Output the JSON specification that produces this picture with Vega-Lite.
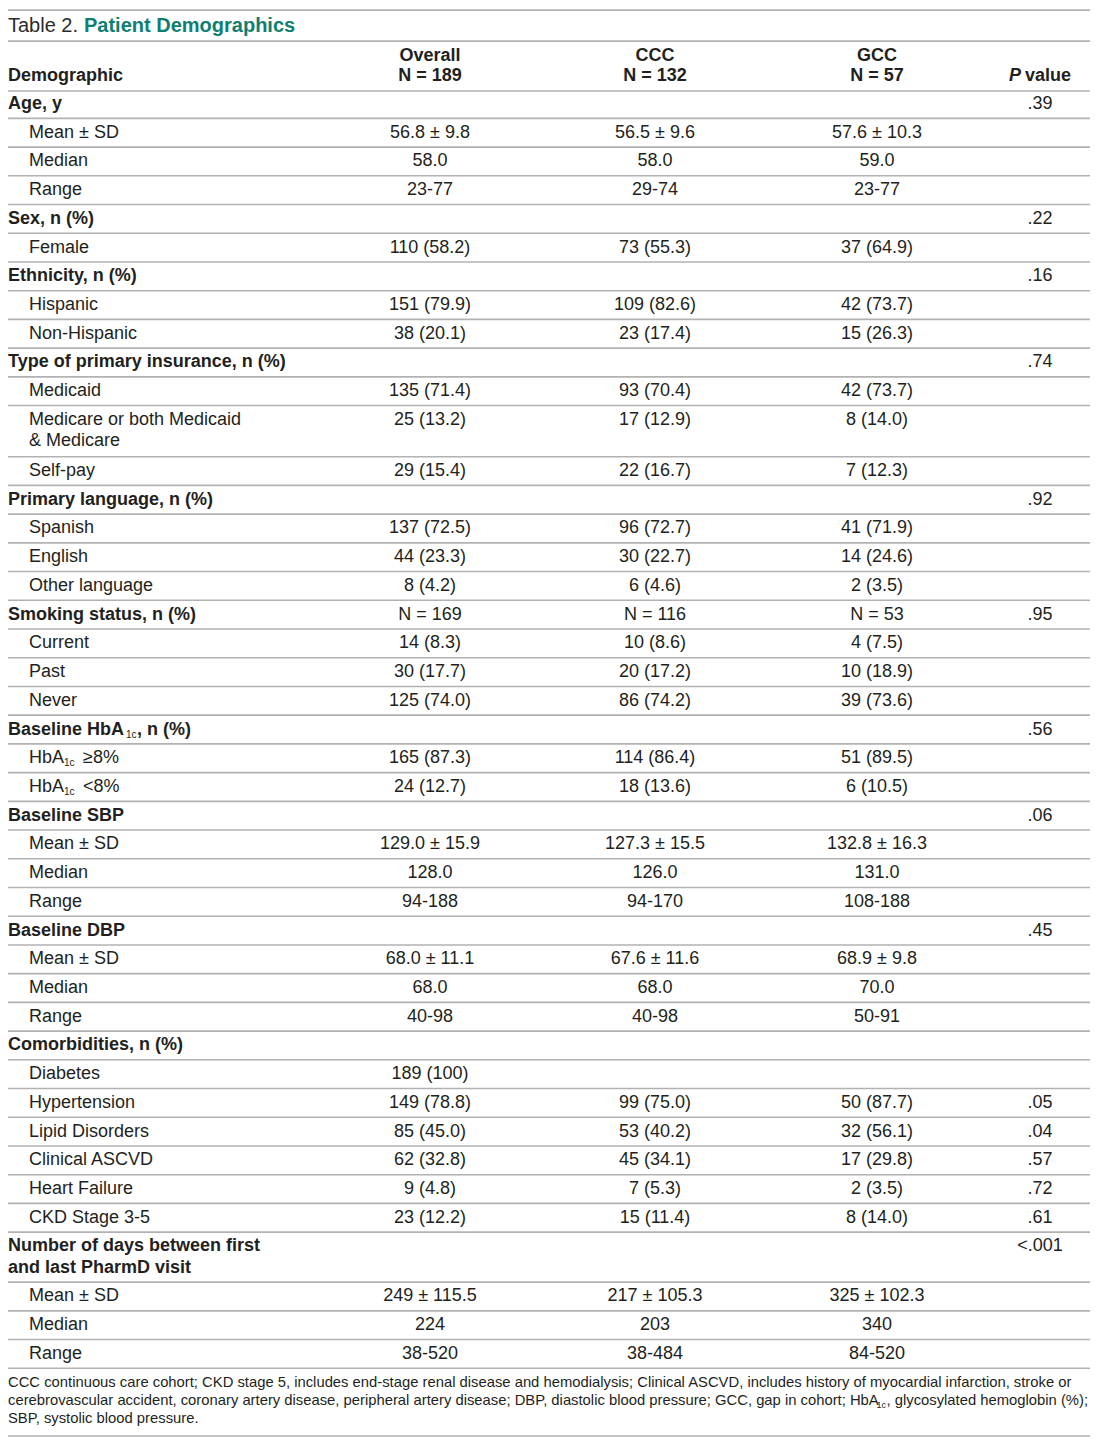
{
  "$schema": "https://vega.github.io/schema/vega-lite/v6.json",
  "width": 1100,
  "height": 1442,
  "padding": 0,
  "autosize": {"type": "none"},
  "background": "white",
  "config": {"view": {"stroke": null}, "text": {"font": "Liberation Sans", "fontSize": 18, "color": "#231f20", "baseline": "middle"}},
  "datasets": {
    "rules": [
      {"r": -3.27, "c": 0, "e": 6}, {"r": -2.19, "c": 0, "e": 6}, {"r": -0.45, "c": 0, "e": 6},
      {"r": 0.5, "c": 0, "e": 6}, {"r": 1.5, "c": 0, "e": 6}, {"r": 2.5, "c": 0, "e": 6}, {"r": 3.5, "c": 0, "e": 6}, {"r": 4.5, "c": 0, "e": 6}, {"r": 5.5, "c": 0, "e": 6}, {"r": 6.5, "c": 0, "e": 6}, {"r": 7.5, "c": 0, "e": 6}, {"r": 8.5, "c": 0, "e": 6}, {"r": 9.5, "c": 0, "e": 6}, {"r": 10.5, "c": 0, "e": 6},
      {"r": 12.28, "c": 0, "e": 6}, {"r": 13.28, "c": 0, "e": 6}, {"r": 14.28, "c": 0, "e": 6}, {"r": 15.28, "c": 0, "e": 6}, {"r": 16.28, "c": 0, "e": 6}, {"r": 17.28, "c": 0, "e": 6}, {"r": 18.28, "c": 0, "e": 6}, {"r": 19.28, "c": 0, "e": 6}, {"r": 20.28, "c": 0, "e": 6}, {"r": 21.28, "c": 0, "e": 6},
      {"r": 22.28, "c": 0, "e": 6}, {"r": 23.28, "c": 0, "e": 6}, {"r": 24.28, "c": 0, "e": 6}, {"r": 25.28, "c": 0, "e": 6}, {"r": 26.28, "c": 0, "e": 6}, {"r": 27.28, "c": 0, "e": 6}, {"r": 28.28, "c": 0, "e": 6}, {"r": 29.28, "c": 0, "e": 6}, {"r": 30.28, "c": 0, "e": 6}, {"r": 31.28, "c": 0, "e": 6},
      {"r": 32.28, "c": 0, "e": 6}, {"r": 33.28, "c": 0, "e": 6}, {"r": 34.28, "c": 0, "e": 6}, {"r": 35.28, "c": 0, "e": 6}, {"r": 36.28, "c": 0, "e": 6}, {"r": 37.28, "c": 0, "e": 6}, {"r": 38.28, "c": 0, "e": 6}, {"r": 39.28, "c": 0, "e": 6},
      {"r": 41.02, "c": 0, "e": 6}, {"r": 42.02, "c": 0, "e": 6}, {"r": 43.02, "c": 0, "e": 6}, {"r": 44.02, "c": 0, "e": 6}, {"r": 46.38, "c": 0, "e": 6}
    ],
    "cells": [
      {"r": -2.72, "c": 0, "k": "t1", "t": "Table 2."},
      {"r": -2.72, "c": 0, "k": "t2", "t": "Patient Demographics"},
      {"r": -1.67, "c": 2, "k": "hc", "t": "Overall"},
      {"r": -1.67, "c": 3, "k": "hc", "t": "CCC"},
      {"r": -1.67, "c": 4, "k": "hc", "t": "GCC"},
      {"r": -0.975, "c": 0, "k": "cat", "t": "Demographic"},
      {"r": -0.975, "c": 2, "k": "hc", "t": "N = 189"},
      {"r": -0.975, "c": 3, "k": "hc", "t": "N = 132"},
      {"r": -0.975, "c": 4, "k": "hc", "t": "N = 57"},
      {"r": -0.975, "c": 5, "k": "pi", "t": "P"},
      {"r": -0.975, "c": 5, "k": "pv", "t": "value"},

      {"r": 0, "c": 0, "k": "cat", "t": "Age, y"},
      {"r": 0, "c": 5, "k": "val", "t": ".39"},
      {"r": 1, "c": 1, "k": "item", "t": "Mean ± SD"},
      {"r": 1, "c": 2, "k": "val", "t": "56.8 ± 9.8"},
      {"r": 1, "c": 3, "k": "val", "t": "56.5 ± 9.6"},
      {"r": 1, "c": 4, "k": "val", "t": "57.6 ± 10.3"},
      {"r": 2, "c": 1, "k": "item", "t": "Median"},
      {"r": 2, "c": 2, "k": "val", "t": "58.0"},
      {"r": 2, "c": 3, "k": "val", "t": "58.0"},
      {"r": 2, "c": 4, "k": "val", "t": "59.0"},
      {"r": 3, "c": 1, "k": "item", "t": "Range"},
      {"r": 3, "c": 2, "k": "val", "t": "23-77"},
      {"r": 3, "c": 3, "k": "val", "t": "29-74"},
      {"r": 3, "c": 4, "k": "val", "t": "23-77"},

      {"r": 4, "c": 0, "k": "cat", "t": "Sex, n (%)"},
      {"r": 4, "c": 5, "k": "val", "t": ".22"},
      {"r": 5, "c": 1, "k": "item", "t": "Female"},
      {"r": 5, "c": 2, "k": "val", "t": "110 (58.2)"},
      {"r": 5, "c": 3, "k": "val", "t": "73 (55.3)"},
      {"r": 5, "c": 4, "k": "val", "t": "37 (64.9)"},

      {"r": 6, "c": 0, "k": "cat", "t": "Ethnicity, n (%)"},
      {"r": 6, "c": 5, "k": "val", "t": ".16"},
      {"r": 7, "c": 1, "k": "item", "t": "Hispanic"},
      {"r": 7, "c": 2, "k": "val", "t": "151 (79.9)"},
      {"r": 7, "c": 3, "k": "val", "t": "109 (82.6)"},
      {"r": 7, "c": 4, "k": "val", "t": "42 (73.7)"},
      {"r": 8, "c": 1, "k": "item", "t": "Non-Hispanic"},
      {"r": 8, "c": 2, "k": "val", "t": "38 (20.1)"},
      {"r": 8, "c": 3, "k": "val", "t": "23 (17.4)"},
      {"r": 8, "c": 4, "k": "val", "t": "15 (26.3)"},

      {"r": 9, "c": 0, "k": "cat", "t": "Type of primary insurance, n (%)"},
      {"r": 9, "c": 5, "k": "val", "t": ".74"},
      {"r": 10, "c": 1, "k": "item", "t": "Medicaid"},
      {"r": 10, "c": 2, "k": "val", "t": "135 (71.4)"},
      {"r": 10, "c": 3, "k": "val", "t": "93 (70.4)"},
      {"r": 10, "c": 4, "k": "val", "t": "42 (73.7)"},
      {"r": 11, "c": 1, "k": "item", "t": "Medicare or both Medicaid"},
      {"r": 11.73, "c": 1, "k": "item", "t": "& Medicare"},
      {"r": 11, "c": 2, "k": "val", "t": "25 (13.2)"},
      {"r": 11, "c": 3, "k": "val", "t": "17 (12.9)"},
      {"r": 11, "c": 4, "k": "val", "t": "8 (14.0)"},
      {"r": 12.78, "c": 1, "k": "item", "t": "Self-pay"},
      {"r": 12.78, "c": 2, "k": "val", "t": "29 (15.4)"},
      {"r": 12.78, "c": 3, "k": "val", "t": "22 (16.7)"},
      {"r": 12.78, "c": 4, "k": "val", "t": "7 (12.3)"},

      {"r": 13.78, "c": 0, "k": "cat", "t": "Primary language, n (%)"},
      {"r": 13.78, "c": 5, "k": "val", "t": ".92"},
      {"r": 14.78, "c": 1, "k": "item", "t": "Spanish"},
      {"r": 14.78, "c": 2, "k": "val", "t": "137 (72.5)"},
      {"r": 14.78, "c": 3, "k": "val", "t": "96 (72.7)"},
      {"r": 14.78, "c": 4, "k": "val", "t": "41 (71.9)"},
      {"r": 15.78, "c": 1, "k": "item", "t": "English"},
      {"r": 15.78, "c": 2, "k": "val", "t": "44 (23.3)"},
      {"r": 15.78, "c": 3, "k": "val", "t": "30 (22.7)"},
      {"r": 15.78, "c": 4, "k": "val", "t": "14 (24.6)"},
      {"r": 16.78, "c": 1, "k": "item", "t": "Other language"},
      {"r": 16.78, "c": 2, "k": "val", "t": "8 (4.2)"},
      {"r": 16.78, "c": 3, "k": "val", "t": "6 (4.6)"},
      {"r": 16.78, "c": 4, "k": "val", "t": "2 (3.5)"},

      {"r": 17.78, "c": 0, "k": "cat", "t": "Smoking status, n (%)"},
      {"r": 17.78, "c": 2, "k": "val", "t": "N = 169"},
      {"r": 17.78, "c": 3, "k": "val", "t": "N = 116"},
      {"r": 17.78, "c": 4, "k": "val", "t": "N = 53"},
      {"r": 17.78, "c": 5, "k": "val", "t": ".95"},
      {"r": 18.78, "c": 1, "k": "item", "t": "Current"},
      {"r": 18.78, "c": 2, "k": "val", "t": "14 (8.3)"},
      {"r": 18.78, "c": 3, "k": "val", "t": "10 (8.6)"},
      {"r": 18.78, "c": 4, "k": "val", "t": "4 (7.5)"},
      {"r": 19.78, "c": 1, "k": "item", "t": "Past"},
      {"r": 19.78, "c": 2, "k": "val", "t": "30 (17.7)"},
      {"r": 19.78, "c": 3, "k": "val", "t": "20 (17.2)"},
      {"r": 19.78, "c": 4, "k": "val", "t": "10 (18.9)"},
      {"r": 20.78, "c": 1, "k": "item", "t": "Never"},
      {"r": 20.78, "c": 2, "k": "val", "t": "125 (74.0)"},
      {"r": 20.78, "c": 3, "k": "val", "t": "86 (74.2)"},
      {"r": 20.78, "c": 4, "k": "val", "t": "39 (73.6)"},

      {"r": 21.78, "c": 0, "k": "cat", "t": "Baseline HbA"},
      {"r": 21.78, "c": 0, "k": "hsub", "t": "1c"},
      {"r": 21.78, "c": 0, "k": "htail", "t": ", n (%)"},
      {"r": 21.78, "c": 5, "k": "val", "t": ".56"},
      {"r": 22.78, "c": 1, "k": "item", "t": "HbA"},
      {"r": 22.78, "c": 1, "k": "isub", "t": "1c"},
      {"r": 22.78, "c": 1, "k": "itail", "t": "≥8%"},
      {"r": 22.78, "c": 2, "k": "val", "t": "165 (87.3)"},
      {"r": 22.78, "c": 3, "k": "val", "t": "114 (86.4)"},
      {"r": 22.78, "c": 4, "k": "val", "t": "51 (89.5)"},
      {"r": 23.78, "c": 1, "k": "item", "t": "HbA"},
      {"r": 23.78, "c": 1, "k": "isub", "t": "1c"},
      {"r": 23.78, "c": 1, "k": "itail", "t": "<8%"},
      {"r": 23.78, "c": 2, "k": "val", "t": "24 (12.7)"},
      {"r": 23.78, "c": 3, "k": "val", "t": "18 (13.6)"},
      {"r": 23.78, "c": 4, "k": "val", "t": "6 (10.5)"},

      {"r": 24.78, "c": 0, "k": "cat", "t": "Baseline SBP"},
      {"r": 24.78, "c": 5, "k": "val", "t": ".06"},
      {"r": 25.78, "c": 1, "k": "item", "t": "Mean ± SD"},
      {"r": 25.78, "c": 2, "k": "val", "t": "129.0 ± 15.9"},
      {"r": 25.78, "c": 3, "k": "val", "t": "127.3 ± 15.5"},
      {"r": 25.78, "c": 4, "k": "val", "t": "132.8 ± 16.3"},
      {"r": 26.78, "c": 1, "k": "item", "t": "Median"},
      {"r": 26.78, "c": 2, "k": "val", "t": "128.0"},
      {"r": 26.78, "c": 3, "k": "val", "t": "126.0"},
      {"r": 26.78, "c": 4, "k": "val", "t": "131.0"},
      {"r": 27.78, "c": 1, "k": "item", "t": "Range"},
      {"r": 27.78, "c": 2, "k": "val", "t": "94-188"},
      {"r": 27.78, "c": 3, "k": "val", "t": "94-170"},
      {"r": 27.78, "c": 4, "k": "val", "t": "108-188"},

      {"r": 28.78, "c": 0, "k": "cat", "t": "Baseline DBP"},
      {"r": 28.78, "c": 5, "k": "val", "t": ".45"},
      {"r": 29.78, "c": 1, "k": "item", "t": "Mean ± SD"},
      {"r": 29.78, "c": 2, "k": "val", "t": "68.0 ± 11.1"},
      {"r": 29.78, "c": 3, "k": "val", "t": "67.6 ± 11.6"},
      {"r": 29.78, "c": 4, "k": "val", "t": "68.9 ± 9.8"},
      {"r": 30.78, "c": 1, "k": "item", "t": "Median"},
      {"r": 30.78, "c": 2, "k": "val", "t": "68.0"},
      {"r": 30.78, "c": 3, "k": "val", "t": "68.0"},
      {"r": 30.78, "c": 4, "k": "val", "t": "70.0"},
      {"r": 31.78, "c": 1, "k": "item", "t": "Range"},
      {"r": 31.78, "c": 2, "k": "val", "t": "40-98"},
      {"r": 31.78, "c": 3, "k": "val", "t": "40-98"},
      {"r": 31.78, "c": 4, "k": "val", "t": "50-91"},

      {"r": 32.78, "c": 0, "k": "cat", "t": "Comorbidities, n (%)"},
      {"r": 33.78, "c": 1, "k": "item", "t": "Diabetes"},
      {"r": 33.78, "c": 2, "k": "val", "t": "189 (100)"},
      {"r": 34.78, "c": 1, "k": "item", "t": "Hypertension"},
      {"r": 34.78, "c": 2, "k": "val", "t": "149 (78.8)"},
      {"r": 34.78, "c": 3, "k": "val", "t": "99 (75.0)"},
      {"r": 34.78, "c": 4, "k": "val", "t": "50 (87.7)"},
      {"r": 34.78, "c": 5, "k": "val", "t": ".05"},
      {"r": 35.78, "c": 1, "k": "item", "t": "Lipid Disorders"},
      {"r": 35.78, "c": 2, "k": "val", "t": "85 (45.0)"},
      {"r": 35.78, "c": 3, "k": "val", "t": "53 (40.2)"},
      {"r": 35.78, "c": 4, "k": "val", "t": "32 (56.1)"},
      {"r": 35.78, "c": 5, "k": "val", "t": ".04"},
      {"r": 36.78, "c": 1, "k": "item", "t": "Clinical ASCVD"},
      {"r": 36.78, "c": 2, "k": "val", "t": "62 (32.8)"},
      {"r": 36.78, "c": 3, "k": "val", "t": "45 (34.1)"},
      {"r": 36.78, "c": 4, "k": "val", "t": "17 (29.8)"},
      {"r": 36.78, "c": 5, "k": "val", "t": ".57"},
      {"r": 37.78, "c": 1, "k": "item", "t": "Heart Failure"},
      {"r": 37.78, "c": 2, "k": "val", "t": "9 (4.8)"},
      {"r": 37.78, "c": 3, "k": "val", "t": "7 (5.3)"},
      {"r": 37.78, "c": 4, "k": "val", "t": "2 (3.5)"},
      {"r": 37.78, "c": 5, "k": "val", "t": ".72"},
      {"r": 38.78, "c": 1, "k": "item", "t": "CKD Stage 3-5"},
      {"r": 38.78, "c": 2, "k": "val", "t": "23 (12.2)"},
      {"r": 38.78, "c": 3, "k": "val", "t": "15 (11.4)"},
      {"r": 38.78, "c": 4, "k": "val", "t": "8 (14.0)"},
      {"r": 38.78, "c": 5, "k": "val", "t": ".61"},

      {"r": 39.78, "c": 0, "k": "cat", "t": "Number of days between first"},
      {"r": 40.52, "c": 0, "k": "cat", "t": "and last PharmD visit"},
      {"r": 39.78, "c": 5, "k": "val", "t": "<.001"},
      {"r": 41.52, "c": 1, "k": "item", "t": "Mean ± SD"},
      {"r": 41.52, "c": 2, "k": "val", "t": "249 ± 115.5"},
      {"r": 41.52, "c": 3, "k": "val", "t": "217 ± 105.3"},
      {"r": 41.52, "c": 4, "k": "val", "t": "325 ± 102.3"},
      {"r": 42.52, "c": 1, "k": "item", "t": "Median"},
      {"r": 42.52, "c": 2, "k": "val", "t": "224"},
      {"r": 42.52, "c": 3, "k": "val", "t": "203"},
      {"r": 42.52, "c": 4, "k": "val", "t": "340"},
      {"r": 43.52, "c": 1, "k": "item", "t": "Range"},
      {"r": 43.52, "c": 2, "k": "val", "t": "38-520"},
      {"r": 43.52, "c": 3, "k": "val", "t": "38-484"},
      {"r": 43.52, "c": 4, "k": "val", "t": "84-520"},

      {"r": 44.53, "c": 0, "k": "note", "t": "CCC continuous care cohort; CKD stage 5, includes end-stage renal disease and hemodialysis; Clinical ASCVD, includes history of myocardial infarction, stroke or"},
      {"r": 45.16, "c": 0, "k": "note", "t": "cerebrovascular accident, coronary artery disease, peripheral artery disease; DBP, diastolic blood pressure; GCC, gap in cohort; HbA"},
      {"r": 45.16, "c": 6, "k": "nsub", "t": "1c"},
      {"r": 45.16, "c": 6, "k": "ntail", "t": ", glycosylated hemoglobin (%);"},
      {"r": 45.79, "c": 0, "k": "note", "t": "SBP, systolic blood pressure."}
    ]
  },
  "layer": [
    {
      "data": {"name": "rules"},
      "mark": {"type": "rule", "color": "#b2b2b2", "strokeWidth": 1.6},
      "encoding": {
        "x": {"field": "c", "type": "quantitative", "axis": null, "scale": {"type": "linear", "domain": [0, 1, 2, 3, 4, 5, 6], "range": [8, 29, 430, 655, 877, 1040, 1090], "zero": false, "nice": false}},
        "x2": {"field": "e"},
        "y": {"field": "r", "type": "quantitative", "axis": null, "scale": {"domain": [-3.621, 46.587], "range": [0, 1442], "zero": false, "nice": false}}
      }
    },
    {
      "data": {"name": "cells"},
      "encoding": {
        "x": {"field": "c", "type": "quantitative", "axis": null, "scale": {"type": "linear", "domain": [0, 1, 2, 3, 4, 5, 6], "range": [8, 29, 430, 655, 877, 1040, 1090], "zero": false, "nice": false}},
        "y": {"field": "r", "type": "quantitative", "axis": null, "scale": {"domain": [-3.621, 46.587], "range": [0, 1442], "zero": false, "nice": false}},
        "text": {"field": "t"}
      },
      "layer": [
        {"transform": [{"filter": "datum.k === 't1'"}], "mark": {"type": "text", "align": "left", "fontSize": 20, "color": "#2b2b2b"}},
        {"transform": [{"filter": "datum.k === 't2'"}], "mark": {"type": "text", "align": "left", "fontSize": 20, "fontWeight": "bold", "color": "#0f7f71", "dx": 76}},
        {"transform": [{"filter": "datum.k === 'hc'"}], "mark": {"type": "text", "align": "center", "fontWeight": "bold"}},
        {"transform": [{"filter": "datum.k === 'cat'"}], "mark": {"type": "text", "align": "left", "fontWeight": "bold"}},
        {"transform": [{"filter": "datum.k === 'pi'"}], "mark": {"type": "text", "align": "right", "fontWeight": "bold", "fontStyle": "italic", "dx": -19}},
        {"transform": [{"filter": "datum.k === 'pv'"}], "mark": {"type": "text", "align": "left", "fontWeight": "bold", "dx": -15}},
        {"transform": [{"filter": "datum.k === 'item'"}], "mark": {"type": "text", "align": "left"}},
        {"transform": [{"filter": "datum.k === 'val'"}], "mark": {"type": "text", "align": "center"}},
        {"transform": [{"filter": "datum.k === 'hsub'"}], "mark": {"type": "text", "align": "left", "fontSize": 10, "dx": 118, "dy": 5}},
        {"transform": [{"filter": "datum.k === 'htail'"}], "mark": {"type": "text", "align": "left", "fontWeight": "bold", "dx": 129}},
        {"transform": [{"filter": "datum.k === 'isub'"}], "mark": {"type": "text", "align": "left", "fontSize": 10, "dx": 35, "dy": 5}},
        {"transform": [{"filter": "datum.k === 'itail'"}], "mark": {"type": "text", "align": "left", "dx": 54}},
        {"transform": [{"filter": "datum.k === 'note'"}], "mark": {"type": "text", "align": "left", "fontSize": 14.8}},
        {"transform": [{"filter": "datum.k === 'nsub'"}], "mark": {"type": "text", "align": "right", "fontSize": 9, "dx": -204, "dy": 4}},
        {"transform": [{"filter": "datum.k === 'ntail'"}], "mark": {"type": "text", "align": "right", "fontSize": 14.8, "dx": -2}}
      ]
    }
  ]
}
